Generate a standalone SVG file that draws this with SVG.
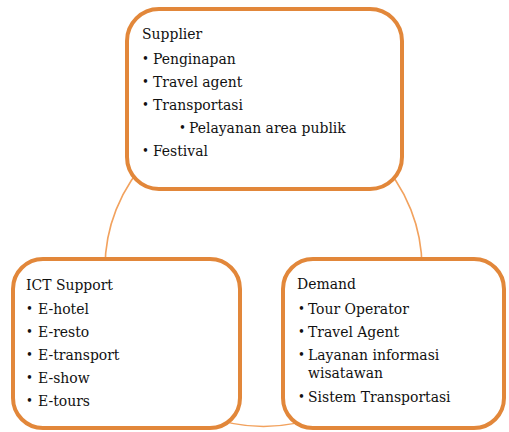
<svg xmlns="http://www.w3.org/2000/svg" width="509" height="432" viewBox="0 0 509 432">
  <style>
    .box { fill: #ffffff; stroke: #E2873A; stroke-width: 4; }
    .link { fill: none; stroke: #F2A25E; stroke-width: 1.6; }
    text { font-family: "DejaVu Serif Condensed", "DejaVu Serif", serif; font-size: 15.5px; fill: #111111; }
    .b { font-size: 13px; }
  </style>
  <rect width="509" height="432" fill="#ffffff"/>

  <!-- cycle ring behind the three boxes -->
  <g id="connectors">
    <circle class="link" cx="263.5" cy="268" r="158.5"/>
  </g>

  <g id="supplier">
    <rect class="box" x="127" y="9" width="275" height="180" rx="32" ry="32"/>
    <text x="142" y="39">Supplier</text>
    <text class="b" x="142" y="63">•</text><text x="153" y="64">Penginapan</text>
    <text class="b" x="142" y="86">•</text><text x="153" y="87">Travel agent</text>
    <text class="b" x="142" y="109">•</text><text x="153" y="110">Transportasi</text>
    <text class="b" x="179" y="132">•</text><text x="189" y="133">Pelayanan  area publik</text>
    <text class="b" x="142" y="155">•</text><text x="153" y="156">Festival</text>
  </g>

  <g id="ict-support">
    <rect class="box" x="13" y="259" width="227" height="169" rx="30" ry="30"/>
    <text x="26" y="290">ICT Support</text>
    <text class="b" x="26" y="313">•</text><text x="38" y="314">E-hotel</text>
    <text class="b" x="26" y="336">•</text><text x="38" y="337">E-resto</text>
    <text class="b" x="26" y="359">•</text><text x="38" y="360">E-transport</text>
    <text class="b" x="26" y="382">•</text><text x="38" y="383">E-show</text>
    <text class="b" x="26" y="405">•</text><text x="38" y="406">E-tours</text>
  </g>

  <g id="demand">
    <rect class="box" x="283" y="259" width="221" height="169" rx="30" ry="30"/>
    <text x="297" y="289">Demand</text>
    <text class="b" x="298" y="313">•</text><text x="308" y="314">Tour Operator</text>
    <text class="b" x="298" y="336">•</text><text x="308" y="337">Travel Agent</text>
    <text class="b" x="298" y="359">•</text><text x="308" y="360">Layanan informasi</text>
    <text x="308" y="378">wisatawan</text>
    <text class="b" x="298" y="401">•</text><text x="308" y="402">Sistem Transportasi</text>
  </g>
</svg>
